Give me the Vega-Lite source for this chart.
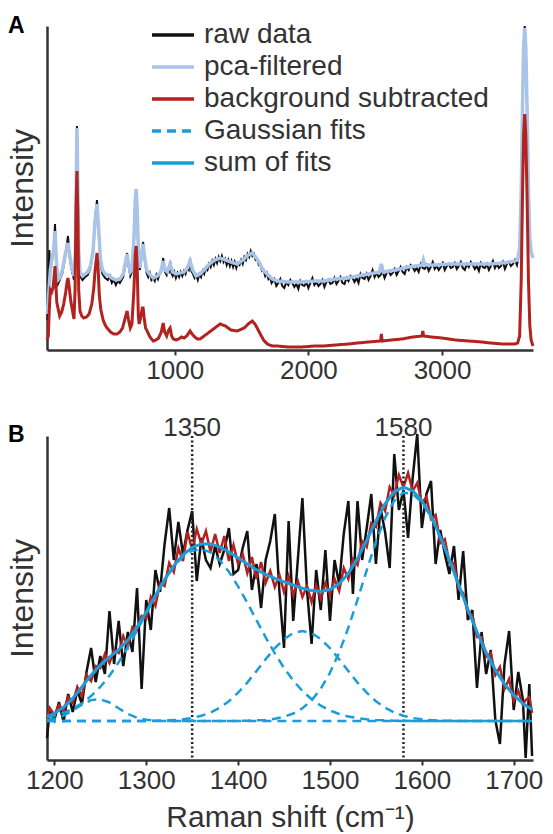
{
"$schema": "https://vega.github.io/schema/vega-lite/v6.json",
"padding": {"left": 6, "top": 15, "right": 0, "bottom": 0},
"background": "white",
"config": {
 "view": {"stroke": null},
 "font": "Liberation Sans",
 "axis": {"grid": false, "domainColor": "#333333", "domainWidth": 2.5, "tickColor": "#333333", "tickWidth": 2, "tickSize": 5, "labelFontSize": 26, "labelColor": "#333333", "labelFont": "Liberation Sans", "labelPadding": 2, "titleFont": "Liberation Sans", "titleFontWeight": "normal", "titleColor": "#333333"},
 "axisY": {"labels": false, "ticks": false, "titleFontSize": 32, "titlePadding": 8},
 "title": {"font": "Liberation Sans", "fontWeight": "bold", "fontSize": 23, "color": "#000000", "anchor": "start", "frame": "bounds", "baseline": "alphabetic"}
},
"spacing": 86,
"bounds": "flush",
"datasets": {
 "a": [
{"s":"raw data","x":48,"v":30},{"s":"raw data","x":55,"v":60},{"s":"raw data","x":62,"v":100},{"s":"raw data","x":70,"v":78},{"s":"raw data","x":80,"v":88},{"s":"raw data","x":95,"v":98},{"s":"raw data","x":105,"v":126},{"s":"raw data","x":112,"v":95},{"s":"raw data","x":120,"v":72},{"s":"raw data","x":127,"v":66},{"s":"raw data","x":140,"v":70},{"s":"raw data","x":160,"v":77},{"s":"raw data","x":180,"v":92},{"s":"raw data","x":202,"v":114},{"s":"raw data","x":215,"v":92},{"s":"raw data","x":230,"v":80},{"s":"raw data","x":247,"v":70},{"s":"raw data","x":258,"v":98},{"s":"raw data","x":264,"v":172},{"s":"raw data","x":269,"v":224},{"s":"raw data","x":275,"v":168},{"s":"raw data","x":282,"v":98},{"s":"raw data","x":292,"v":74},{"s":"raw data","x":310,"v":70},{"s":"raw data","x":330,"v":73},{"s":"raw data","x":350,"v":75},{"s":"raw data","x":370,"v":82},{"s":"raw data","x":390,"v":98},{"s":"raw data","x":405,"v":132},{"s":"raw data","x":419,"v":150},{"s":"raw data","x":432,"v":118},{"s":"raw data","x":445,"v":86},{"s":"raw data","x":460,"v":76},{"s":"raw data","x":480,"v":72},{"s":"raw data","x":500,"v":70},{"s":"raw data","x":515,"v":74},{"s":"raw data","x":530,"v":67},{"s":"raw data","x":545,"v":70},{"s":"raw data","x":560,"v":65},{"s":"raw data","x":575,"v":69},{"s":"raw data","x":590,"v":67},{"s":"raw data","x":615,"v":73},{"s":"raw data","x":635,"v":88},{"s":"raw data","x":644,"v":97},{"s":"raw data","x":655,"v":84},{"s":"raw data","x":668,"v":74},{"s":"raw data","x":680,"v":78},{"s":"raw data","x":695,"v":108},{"s":"raw data","x":705,"v":148},{"s":"raw data","x":712,"v":160},{"s":"raw data","x":720,"v":138},{"s":"raw data","x":730,"v":87},{"s":"raw data","x":740,"v":80},{"s":"raw data","x":752,"v":97},{"s":"raw data","x":764,"v":108},{"s":"raw data","x":776,"v":90},
{"s":"raw data","x":790,"v":77},{"s":"raw data","x":802,"v":73},{"s":"raw data","x":814,"v":77},{"s":"raw data","x":826,"v":70},{"s":"raw data","x":839,"v":72},{"s":"raw data","x":851,"v":69},{"s":"raw data","x":863,"v":75},{"s":"raw data","x":875,"v":71},{"s":"raw data","x":887,"v":76},{"s":"raw data","x":899,"v":79},{"s":"raw data","x":908,"v":86},{"s":"raw data","x":914,"v":92},{"s":"raw data","x":920,"v":85},{"s":"raw data","x":928,"v":78},{"s":"raw data","x":940,"v":75},{"s":"raw data","x":950,"v":81},{"s":"raw data","x":958,"v":79},{"s":"raw data","x":966,"v":89},{"s":"raw data","x":975,"v":77},{"s":"raw data","x":985,"v":74},{"s":"raw data","x":997,"v":78},{"s":"raw data","x":1009,"v":72},{"s":"raw data","x":1021,"v":77},{"s":"raw data","x":1033,"v":73},{"s":"raw data","x":1045,"v":78},{"s":"raw data","x":1057,"v":74},{"s":"raw data","x":1069,"v":79},{"s":"raw data","x":1081,"v":76},{"s":"raw data","x":1093,"v":82},{"s":"raw data","x":1105,"v":80},{"s":"raw data","x":1115,"v":92},{"s":"raw data","x":1125,"v":79},{"s":"raw data","x":1137,"v":76},{"s":"raw data","x":1149,"v":72},{"s":"raw data","x":1161,"v":75},{"s":"raw data","x":1173,"v":70},{"s":"raw data","x":1185,"v":76},{"s":"raw data","x":1197,"v":73},{"s":"raw data","x":1209,"v":79},{"s":"raw data","x":1221,"v":76},{"s":"raw data","x":1233,"v":82},{"s":"raw data","x":1245,"v":80},{"s":"raw data","x":1257,"v":86},{"s":"raw data","x":1269,"v":83},{"s":"raw data","x":1281,"v":89},{"s":"raw data","x":1293,"v":85},{"s":"raw data","x":1305,"v":91},{"s":"raw data","x":1317,"v":87},{"s":"raw data","x":1329,"v":93},{"s":"raw data","x":1341,"v":89},{"s":"raw data","x":1353,"v":94},{"s":"raw data","x":1365,"v":88},{"s":"raw data","x":1377,"v":91},{"s":"raw data","x":1389,"v":85},{"s":"raw data","x":1401,"v":90},{"s":"raw data","x":1413,"v":84},{"s":"raw data","x":1425,"v":89},{"s":"raw data","x":1437,"v":83},{"s":"raw data","x":1449,"v":88},{"s":"raw data","x":1461,"v":82},{"s":"raw data","x":1473,"v":87},{"s":"raw data","x":1485,"v":85},{"s":"raw data","x":1497,"v":90},{"s":"raw data","x":1509,"v":86},{"s":"raw data","x":1521,"v":93},{"s":"raw data","x":1533,"v":90},{"s":"raw data","x":1545,"v":96},{"s":"raw data","x":1557,"v":93},{"s":"raw data","x":1569,"v":99},{"s":"raw data","x":1581,"v":94},{"s":"raw data","x":1593,"v":96},{"s":"raw data","x":1605,"v":90},{"s":"raw data","x":1617,"v":91},{"s":"raw data","x":1629,"v":85},{"s":"raw data","x":1641,"v":86},{"s":"raw data","x":1653,"v":79},{"s":"raw data","x":1665,"v":80},{"s":"raw data","x":1677,"v":74},{"s":"raw data","x":1689,"v":77},{"s":"raw data","x":1701,"v":71},{"s":"raw data","x":1713,"v":73},{"s":"raw data","x":1725,"v":67},
{"s":"raw data","x":1730,"v":68},{"s":"raw data","x":1745,"v":71},{"s":"raw data","x":1760,"v":64},{"s":"raw data","x":1775,"v":67},{"s":"raw data","x":1790,"v":71},{"s":"raw data","x":1805,"v":64},{"s":"raw data","x":1820,"v":62},{"s":"raw data","x":1835,"v":68},{"s":"raw data","x":1850,"v":65},{"s":"raw data","x":1865,"v":70},{"s":"raw data","x":1880,"v":67},{"s":"raw data","x":1895,"v":63},{"s":"raw data","x":1910,"v":66},{"s":"raw data","x":1925,"v":61},{"s":"raw data","x":1940,"v":69},{"s":"raw data","x":1955,"v":65},{"s":"raw data","x":1970,"v":64},{"s":"raw data","x":1985,"v":68},{"s":"raw data","x":2000,"v":62},{"s":"raw data","x":2015,"v":67},{"s":"raw data","x":2030,"v":72},{"s":"raw data","x":2045,"v":65},{"s":"raw data","x":2060,"v":68},{"s":"raw data","x":2075,"v":64},{"s":"raw data","x":2090,"v":66},{"s":"raw data","x":2105,"v":70},{"s":"raw data","x":2120,"v":63},{"s":"raw data","x":2135,"v":68},{"s":"raw data","x":2150,"v":70},{"s":"raw data","x":2165,"v":66},{"s":"raw data","x":2180,"v":67},{"s":"raw data","x":2195,"v":72},{"s":"raw data","x":2210,"v":66},{"s":"raw data","x":2225,"v":69},{"s":"raw data","x":2240,"v":73},{"s":"raw data","x":2255,"v":67},{"s":"raw data","x":2270,"v":66},{"s":"raw data","x":2285,"v":72},{"s":"raw data","x":2300,"v":69},{"s":"raw data","x":2315,"v":74},{"s":"raw data","x":2330,"v":72},{"s":"raw data","x":2345,"v":68},{"s":"raw data","x":2360,"v":72},{"s":"raw data","x":2375,"v":67},{"s":"raw data","x":2390,"v":76},{"s":"raw data","x":2405,"v":72},{"s":"raw data","x":2420,"v":71},{"s":"raw data","x":2435,"v":76},{"s":"raw data","x":2450,"v":70},{"s":"raw data","x":2465,"v":74},{"s":"raw data","x":2480,"v":80},{"s":"raw data","x":2495,"v":73},{"s":"raw data","x":2510,"v":77},{"s":"raw data","x":2525,"v":73},{"s":"raw data","x":2540,"v":75},{"s":"raw data","x":2555,"v":79},{"s":"raw data","x":2570,"v":72},{"s":"raw data","x":2585,"v":77},{"s":"raw data","x":2600,"v":79},{"s":"raw data","x":2615,"v":75},{"s":"raw data","x":2630,"v":77},{"s":"raw data","x":2645,"v":81},{"s":"raw data","x":2660,"v":75},{"s":"raw data","x":2675,"v":79},{"s":"raw data","x":2690,"v":83},{"s":"raw data","x":2705,"v":78},{"s":"raw data","x":2720,"v":76},{"s":"raw data","x":2735,"v":83},{"s":"raw data","x":2750,"v":80},{"s":"raw data","x":2765,"v":85},{"s":"raw data","x":2780,"v":83},{"s":"raw data","x":2795,"v":79},{"s":"raw data","x":2810,"v":82},{"s":"raw data","x":2825,"v":78},{"s":"raw data","x":2840,"v":86},{"s":"raw data","x":2855,"v":82},{"s":"raw data","x":2870,"v":81},{"s":"raw data","x":2885,"v":85},{"s":"raw data","x":2900,"v":79},{"s":"raw data","x":2915,"v":83},{"s":"raw data","x":2930,"v":88},{"s":"raw data","x":2945,"v":81},{"s":"raw data","x":2960,"v":84},{"s":"raw data","x":2975,"v":80},{"s":"raw data","x":2990,"v":83},{"s":"raw data","x":3005,"v":87},{"s":"raw data","x":3020,"v":80},{"s":"raw data","x":3035,"v":84},{"s":"raw data","x":3050,"v":86},{"s":"raw data","x":3065,"v":82},{"s":"raw data","x":3080,"v":83},{"s":"raw data","x":3095,"v":87},{"s":"raw data","x":3110,"v":81},{"s":"raw data","x":3125,"v":84},{"s":"raw data","x":3140,"v":88},{"s":"raw data","x":3155,"v":82},{"s":"raw data","x":3170,"v":80},{"s":"raw data","x":3185,"v":86},{"s":"raw data","x":3200,"v":83},{"s":"raw data","x":3215,"v":88},{"s":"raw data","x":3230,"v":85},{"s":"raw data","x":3245,"v":81},{"s":"raw data","x":3260,"v":84},{"s":"raw data","x":3275,"v":79},{"s":"raw data","x":3290,"v":87},{"s":"raw data","x":3305,"v":83},{"s":"raw data","x":3320,"v":82},{"s":"raw data","x":3335,"v":86},{"s":"raw data","x":3350,"v":80},{"s":"raw data","x":3365,"v":84},{"s":"raw data","x":3380,"v":89},{"s":"raw data","x":3395,"v":82},{"s":"raw data","x":3410,"v":86},{"s":"raw data","x":3425,"v":82},{"s":"raw data","x":3440,"v":84},{"s":"raw data","x":3455,"v":88},{"s":"raw data","x":3470,"v":81},{"s":"raw data","x":3485,"v":86},{"s":"raw data","x":3500,"v":88},{"s":"raw data","x":3515,"v":84},{"s":"raw data","x":3530,"v":86},{"s":"raw data","x":3545,"v":90},{"s":"raw data","x":3560,"v":85},{"s":"raw data","x":3570,"v":92},{"s":"raw data","x":3580,"v":100},{"s":"raw data","x":3592,"v":160},{"s":"raw data","x":3602,"v":250},{"s":"raw data","x":3610,"v":305},{"s":"raw data","x":3618,"v":324},{"s":"raw data","x":3626,"v":305},{"s":"raw data","x":3636,"v":240},{"s":"raw data","x":3646,"v":160},{"s":"raw data","x":3656,"v":112},{"s":"raw data","x":3666,"v":97},{"s":"raw data","x":3680,"v":94},
{"s":"pca-filtered","x":48,"v":36},{"s":"pca-filtered","x":60,"v":60},{"s":"pca-filtered","x":70,"v":80},{"s":"pca-filtered","x":80,"v":90},{"s":"pca-filtered","x":95,"v":100},{"s":"pca-filtered","x":105,"v":119},{"s":"pca-filtered","x":115,"v":90},{"s":"pca-filtered","x":127,"v":70},{"s":"pca-filtered","x":140,"v":72},{"s":"pca-filtered","x":160,"v":80},{"s":"pca-filtered","x":180,"v":95},{"s":"pca-filtered","x":202,"v":107},{"s":"pca-filtered","x":215,"v":95},{"s":"pca-filtered","x":230,"v":82},{"s":"pca-filtered","x":247,"v":74},{"s":"pca-filtered","x":258,"v":100},{"s":"pca-filtered","x":264,"v":170},{"s":"pca-filtered","x":269,"v":222},{"s":"pca-filtered","x":275,"v":170},{"s":"pca-filtered","x":282,"v":100},{"s":"pca-filtered","x":292,"v":78},{"s":"pca-filtered","x":310,"v":74},{"s":"pca-filtered","x":330,"v":76},{"s":"pca-filtered","x":350,"v":78},{"s":"pca-filtered","x":370,"v":84},{"s":"pca-filtered","x":390,"v":100},{"s":"pca-filtered","x":405,"v":130},{"s":"pca-filtered","x":419,"v":146},{"s":"pca-filtered","x":432,"v":120},{"s":"pca-filtered","x":445,"v":90},{"s":"pca-filtered","x":460,"v":80},{"s":"pca-filtered","x":480,"v":76},{"s":"pca-filtered","x":500,"v":75},{"s":"pca-filtered","x":530,"v":72},{"s":"pca-filtered","x":560,"v":70},{"s":"pca-filtered","x":590,"v":71},{"s":"pca-filtered","x":615,"v":76},{"s":"pca-filtered","x":635,"v":90},{"s":"pca-filtered","x":644,"v":96},{"s":"pca-filtered","x":655,"v":86},{"s":"pca-filtered","x":668,"v":78},{"s":"pca-filtered","x":680,"v":80},{"s":"pca-filtered","x":695,"v":110},{"s":"pca-filtered","x":705,"v":150},{"s":"pca-filtered","x":712,"v":161},{"s":"pca-filtered","x":720,"v":140},{"s":"pca-filtered","x":730,"v":90},{"s":"pca-filtered","x":740,"v":82},{"s":"pca-filtered","x":752,"v":95},{"s":"pca-filtered","x":764,"v":106},{"s":"pca-filtered","x":776,"v":92},{"s":"pca-filtered","x":790,"v":80},{"s":"pca-filtered","x":810,"v":76},{"s":"pca-filtered","x":839,"v":72},{"s":"pca-filtered","x":870,"v":74},{"s":"pca-filtered","x":895,"v":78},{"s":"pca-filtered","x":914,"v":89},{"s":"pca-filtered","x":928,"v":80},{"s":"pca-filtered","x":945,"v":78},{"s":"pca-filtered","x":966,"v":86},{"s":"pca-filtered","x":985,"v":78},{"s":"pca-filtered","x":1010,"v":76},{"s":"pca-filtered","x":1040,"v":77},{"s":"pca-filtered","x":1070,"v":78},{"s":"pca-filtered","x":1095,"v":82},{"s":"pca-filtered","x":1115,"v":89},{"s":"pca-filtered","x":1135,"v":80},{"s":"pca-filtered","x":1160,"v":74},{"s":"pca-filtered","x":1190,"v":76},{"s":"pca-filtered","x":1220,"v":80},{"s":"pca-filtered","x":1260,"v":86},{"s":"pca-filtered","x":1300,"v":90},{"s":"pca-filtered","x":1340,"v":92},{"s":"pca-filtered","x":1380,"v":90},{"s":"pca-filtered","x":1420,"v":88},{"s":"pca-filtered","x":1467,"v":86},{"s":"pca-filtered","x":1510,"v":90},{"s":"pca-filtered","x":1550,"v":95},{"s":"pca-filtered","x":1580,"v":97},{"s":"pca-filtered","x":1600,"v":94},{"s":"pca-filtered","x":1630,"v":88},{"s":"pca-filtered","x":1660,"v":80},{"s":"pca-filtered","x":1692,"v":76},{"s":"pca-filtered","x":1730,"v":71},{"s":"pca-filtered","x":1767,"v":69},{"s":"pca-filtered","x":1850,"v":68},{"s":"pca-filtered","x":1950,"v":68},{"s":"pca-filtered","x":2050,"v":69},{"s":"pca-filtered","x":2112,"v":69},{"s":"pca-filtered","x":2200,"v":71},{"s":"pca-filtered","x":2300,"v":72},{"s":"pca-filtered","x":2366,"v":74},{"s":"pca-filtered","x":2450,"v":76},{"s":"pca-filtered","x":2530,"v":78},{"s":"pca-filtered","x":2546,"v":86},{"s":"pca-filtered","x":2560,"v":78},{"s":"pca-filtered","x":2650,"v":80},{"s":"pca-filtered","x":2750,"v":83},{"s":"pca-filtered","x":2850,"v":85},{"s":"pca-filtered","x":2860,"v":90},{"s":"pca-filtered","x":2870,"v":85},{"s":"pca-filtered","x":2950,"v":85},{"s":"pca-filtered","x":3050,"v":86},{"s":"pca-filtered","x":3150,"v":86},{"s":"pca-filtered","x":3250,"v":86},{"s":"pca-filtered","x":3360,"v":86},{"s":"pca-filtered","x":3450,"v":87},{"s":"pca-filtered","x":3545,"v":89},{"s":"pca-filtered","x":3565,"v":90},{"s":"pca-filtered","x":3580,"v":102},{"s":"pca-filtered","x":3592,"v":158},{"s":"pca-filtered","x":3602,"v":248},{"s":"pca-filtered","x":3610,"v":303},{"s":"pca-filtered","x":3618,"v":322},{"s":"pca-filtered","x":3626,"v":303},{"s":"pca-filtered","x":3636,"v":238},{"s":"pca-filtered","x":3646,"v":158},{"s":"pca-filtered","x":3656,"v":113},{"s":"pca-filtered","x":3666,"v":98},{"s":"pca-filtered","x":3680,"v":92},
{"s":"background subtracted","x":45,"v":10},{"s":"background subtracted","x":55,"v":14},{"s":"background subtracted","x":62,"v":40},{"s":"background subtracted","x":70,"v":60},{"s":"background subtracted","x":80,"v":58},{"s":"background subtracted","x":90,"v":62},{"s":"background subtracted","x":100,"v":76},{"s":"background subtracted","x":105,"v":84},{"s":"background subtracted","x":110,"v":70},{"s":"background subtracted","x":118,"v":48},{"s":"background subtracted","x":127,"v":42},{"s":"background subtracted","x":140,"v":34},{"s":"background subtracted","x":155,"v":38},{"s":"background subtracted","x":170,"v":46},{"s":"background subtracted","x":185,"v":58},{"s":"background subtracted","x":195,"v":68},{"s":"background subtracted","x":202,"v":72},{"s":"background subtracted","x":210,"v":64},{"s":"background subtracted","x":222,"v":50},{"s":"background subtracted","x":232,"v":42},{"s":"background subtracted","x":240,"v":36},{"s":"background subtracted","x":247,"v":31},{"s":"background subtracted","x":255,"v":60},{"s":"background subtracted","x":262,"v":140},{"s":"background subtracted","x":269,"v":179},{"s":"background subtracted","x":276,"v":130},{"s":"background subtracted","x":282,"v":60},{"s":"background subtracted","x":292,"v":39},{"s":"background subtracted","x":305,"v":34},{"s":"background subtracted","x":320,"v":32},{"s":"background subtracted","x":340,"v":33},{"s":"background subtracted","x":360,"v":36},{"s":"background subtracted","x":380,"v":46},{"s":"background subtracted","x":395,"v":62},{"s":"background subtracted","x":405,"v":80},{"s":"background subtracted","x":419,"v":97},{"s":"background subtracted","x":428,"v":80},{"s":"background subtracted","x":436,"v":55},{"s":"background subtracted","x":448,"v":40},{"s":"background subtracted","x":465,"v":30},{"s":"background subtracted","x":480,"v":25},{"s":"background subtracted","x":494,"v":22},{"s":"background subtracted","x":520,"v":18},{"s":"background subtracted","x":545,"v":16},{"s":"background subtracted","x":569,"v":16},{"s":"background subtracted","x":590,"v":18},{"s":"background subtracted","x":610,"v":22},{"s":"background subtracted","x":630,"v":32},{"s":"background subtracted","x":644,"v":39},{"s":"background subtracted","x":655,"v":30},{"s":"background subtracted","x":668,"v":22},{"s":"background subtracted","x":680,"v":26},{"s":"background subtracted","x":695,"v":60},{"s":"background subtracted","x":705,"v":95},{"s":"background subtracted","x":712,"v":104},{"s":"background subtracted","x":720,"v":80},{"s":"background subtracted","x":728,"v":35},{"s":"background subtracted","x":734,"v":26},{"s":"background subtracted","x":745,"v":32},{"s":"background subtracted","x":758,"v":42},{"s":"background subtracted","x":764,"v":42},{"s":"background subtracted","x":772,"v":32},{"s":"background subtracted","x":782,"v":22},{"s":"background subtracted","x":794,"v":19},{"s":"background subtracted","x":815,"v":13},{"s":"background subtracted","x":839,"v":9},{"s":"background subtracted","x":860,"v":10},{"s":"background subtracted","x":880,"v":12},{"s":"background subtracted","x":900,"v":18},{"s":"background subtracted","x":914,"v":27},{"s":"background subtracted","x":925,"v":18},{"s":"background subtracted","x":940,"v":14},{"s":"background subtracted","x":955,"v":20},{"s":"background subtracted","x":966,"v":22},{"s":"background subtracted","x":977,"v":14},{"s":"background subtracted","x":990,"v":11},{"s":"background subtracted","x":1010,"v":10},{"s":"background subtracted","x":1030,"v":11},{"s":"background subtracted","x":1050,"v":13},{"s":"background subtracted","x":1070,"v":12},{"s":"background subtracted","x":1090,"v":14},{"s":"background subtracted","x":1105,"v":17},{"s":"background subtracted","x":1115,"v":19},{"s":"background subtracted","x":1130,"v":16},{"s":"background subtracted","x":1150,"v":13},{"s":"background subtracted","x":1170,"v":11},{"s":"background subtracted","x":1190,"v":11},{"s":"background subtracted","x":1220,"v":14},{"s":"background subtracted","x":1260,"v":18},{"s":"background subtracted","x":1300,"v":22},{"s":"background subtracted","x":1340,"v":26},{"s":"background subtracted","x":1380,"v":24},{"s":"background subtracted","x":1420,"v":20},{"s":"background subtracted","x":1467,"v":19},{"s":"background subtracted","x":1520,"v":22},{"s":"background subtracted","x":1550,"v":26},{"s":"background subtracted","x":1580,"v":29},{"s":"background subtracted","x":1600,"v":26},{"s":"background subtracted","x":1617,"v":22},{"s":"background subtracted","x":1640,"v":16},{"s":"background subtracted","x":1665,"v":10},{"s":"background subtracted","x":1692,"v":6},{"s":"background subtracted","x":1730,"v":4},{"s":"background subtracted","x":1767,"v":4},{"s":"background subtracted","x":1850,"v":3},{"s":"background subtracted","x":1950,"v":3},{"s":"background subtracted","x":2050,"v":4},{"s":"background subtracted","x":2112,"v":4},{"s":"background subtracted","x":2200,"v":5},{"s":"background subtracted","x":2300,"v":6},{"s":"background subtracted","x":2366,"v":7},{"s":"background subtracted","x":2450,"v":8},{"s":"background subtracted","x":2540,"v":9},{"s":"background subtracted","x":2546,"v":16},{"s":"background subtracted","x":2552,"v":9},{"s":"background subtracted","x":2620,"v":10},{"s":"background subtracted","x":2700,"v":11},{"s":"background subtracted","x":2780,"v":13},{"s":"background subtracted","x":2850,"v":14},{"s":"background subtracted","x":2856,"v":19},{"s":"background subtracted","x":2862,"v":14},{"s":"background subtracted","x":2920,"v":13},{"s":"background subtracted","x":3000,"v":12},{"s":"background subtracted","x":3100,"v":10},{"s":"background subtracted","x":3200,"v":9},{"s":"background subtracted","x":3300,"v":8},{"s":"background subtracted","x":3360,"v":7},{"s":"background subtracted","x":3450,"v":6},{"s":"background subtracted","x":3545,"v":6},{"s":"background subtracted","x":3565,"v":7},{"s":"background subtracted","x":3580,"v":14},{"s":"background subtracted","x":3592,"v":70},{"s":"background subtracted","x":3602,"v":160},{"s":"background subtracted","x":3610,"v":215},{"s":"background subtracted","x":3618,"v":236},{"s":"background subtracted","x":3626,"v":215},{"s":"background subtracted","x":3636,"v":150},{"s":"background subtracted","x":3646,"v":70},{"s":"background subtracted","x":3656,"v":25},{"s":"background subtracted","x":3666,"v":10},{"s":"background subtracted","x":3680,"v":4}
 ],
 "b": [
{"x":1192,"raw":22,"red":42},{"x":1195,"raw":50,"red":52},{"x":1200,"raw":40,"red":45},{"x":1205,"raw":58,"red":55},{"x":1210,"raw":38,"red":49},{"x":1215,"raw":66,"red":63},{"x":1220,"raw":48,"red":57},{"x":1225,"raw":70,"red":73},{"x":1230,"raw":56,"red":64},{"x":1235,"raw":88,"red":85},{"x":1240,"raw":112,"red":79},{"x":1245,"raw":78,"red":94},{"x":1250,"raw":104,"red":92},{"x":1255,"raw":86,"red":106},{"x":1260,"raw":149,"red":97},{"x":1265,"raw":96,"red":110},{"x":1270,"raw":139,"red":107},{"x":1275,"raw":94,"red":124},{"x":1280,"raw":128,"red":113},{"x":1285,"raw":108,"red":133},{"x":1290,"raw":172,"red":130},{"x":1295,"raw":71,"red":144},{"x":1300,"raw":160,"red":141},{"x":1305,"raw":130,"red":163},{"x":1310,"raw":190,"red":154},{"x":1315,"raw":168,"red":177},{"x":1320,"raw":216,"red":174},{"x":1325,"raw":252,"red":197},{"x":1330,"raw":200,"red":188},{"x":1335,"raw":238,"red":212},{"x":1340,"raw":206,"red":199},{"x":1345,"raw":230,"red":228},{"x":1350,"raw":249,"red":210},{"x":1355,"raw":179,"red":231},{"x":1360,"raw":222,"red":216},{"x":1365,"raw":200,"red":229},{"x":1370,"raw":192,"red":208},{"x":1375,"raw":214,"red":226},{"x":1380,"raw":196,"red":207},{"x":1385,"raw":210,"red":224},{"x":1390,"raw":232,"red":199},{"x":1395,"raw":186,"red":215},{"x":1400,"raw":190,"red":196},{"x":1405,"raw":212,"red":206},{"x":1410,"raw":229,"red":187},{"x":1415,"raw":170,"red":203},{"x":1420,"raw":196,"red":181},{"x":1425,"raw":152,"red":198},{"x":1430,"raw":200,"red":177},{"x":1435,"raw":219,"red":189},{"x":1440,"raw":246,"red":173},{"x":1445,"raw":168,"red":185},{"x":1450,"raw":112,"red":168},{"x":1455,"raw":239,"red":184},{"x":1460,"raw":139,"red":165},{"x":1465,"raw":200,"red":179},{"x":1470,"raw":262,"red":163},{"x":1475,"raw":170,"red":174},{"x":1480,"raw":116,"red":158},{"x":1485,"raw":190,"red":175},{"x":1490,"raw":150,"red":161},{"x":1495,"raw":210,"red":177},{"x":1500,"raw":139,"red":165},{"x":1505,"raw":200,"red":181},{"x":1510,"raw":176,"red":169},{"x":1515,"raw":226,"red":192},{"x":1520,"raw":259,"red":181},{"x":1525,"raw":166,"red":201},{"x":1530,"raw":259,"red":195},{"x":1535,"raw":200,"red":219},{"x":1540,"raw":232,"red":213},{"x":1545,"raw":266,"red":237},{"x":1550,"raw":196,"red":233},{"x":1555,"raw":252,"red":257},{"x":1560,"raw":228,"red":249},{"x":1565,"raw":192,"red":273},{"x":1570,"raw":306,"red":265},{"x":1575,"raw":250,"red":285},{"x":1580,"raw":270,"red":273},{"x":1585,"raw":222,"red":287},{"x":1590,"raw":282,"red":269},{"x":1595,"raw":326,"red":277},{"x":1600,"raw":232,"red":257},{"x":1605,"raw":266,"red":263},{"x":1610,"raw":279,"red":241},{"x":1615,"raw":196,"red":245},{"x":1620,"raw":230,"red":217},{"x":1625,"raw":206,"red":221},{"x":1630,"raw":186,"red":197},{"x":1635,"raw":214,"red":197},{"x":1640,"raw":160,"red":171},{"x":1645,"raw":209,"red":167},{"x":1650,"raw":140,"red":147},{"x":1655,"raw":150,"red":145},{"x":1660,"raw":72,"red":123},{"x":1665,"raw":128,"red":123},{"x":1670,"raw":86,"red":103},{"x":1675,"raw":110,"red":107},{"x":1680,"raw":40,"red":85},{"x":1685,"raw":16,"red":93},{"x":1690,"raw":96,"red":71},{"x":1695,"raw":129,"red":81},{"x":1700,"raw":50,"red":59},{"x":1705,"raw":88,"red":69},{"x":1710,"raw":60,"red":55},{"x":1713,"raw":2,"red":60},{"x":1717,"raw":76,"red":63},{"x":1720,"raw":4,"red":47}
 ],
 "g": [
{"x":1192,"g1":40.0,"g2":42.8,"g3":39,"g4":39,"sum":43.7},{"x":1200,"g1":41.2,"g2":44.4,"g3":39,"g4":39,"sum":46.6},{"x":1210,"g1":44.4,"g2":47.2,"g3":39,"g4":39,"sum":52.6},{"x":1220,"g1":49.4,"g2":51.2,"g3":39,"g4":39,"sum":61.6},{"x":1230,"g1":55.3,"g2":56.7,"g3":39,"g4":39,"sum":73.0},{"x":1240,"g1":59.9,"g2":63.9,"g3":39,"g4":39,"sum":84.8},{"x":1250,"g1":60.8,"g2":73.0,"g3":39,"g4":39,"sum":94.8},{"x":1260,"g1":57.5,"g2":84.3,"g3":39,"g4":39,"sum":102.8},{"x":1270,"g1":51.7,"g2":97.7,"g3":39,"g4":39,"sum":110.4},{"x":1280,"g1":46.1,"g2":112.9,"g3":39,"g4":39,"sum":120.0},{"x":1290,"g1":42.3,"g2":129.5,"g3":39,"g4":39,"sum":132.8},{"x":1300,"g1":40.2,"g2":146.8,"g3":39.1,"g4":39,"sum":148.1},{"x":1310,"g1":39.4,"g2":163.9,"g3":39.2,"g4":39,"sum":164.5},{"x":1320,"g1":39.1,"g2":179.7,"g3":39.4,"g4":39,"sum":180.2},{"x":1330,"g1":39,"g2":193.3,"g3":39.9,"g4":39,"sum":194.2},{"x":1340,"g1":39,"g2":203.4,"g3":40.7,"g4":39,"sum":205.1},{"x":1350,"g1":39,"g2":209.5,"g3":42.0,"g4":39,"sum":212.5},{"x":1360,"g1":39,"g2":210.9,"g3":44.2,"g4":39,"sum":216.1},{"x":1370,"g1":39,"g2":207.6,"g3":47.5,"g4":39,"sum":216.1},{"x":1380,"g1":39,"g2":199.8,"g3":52.3,"g4":39,"sum":213.1},{"x":1390,"g1":39,"g2":188.2,"g3":58.8,"g4":39,"sum":208.0},{"x":1400,"g1":39,"g2":173.7,"g3":67.3,"g4":39.1,"sum":202.1},{"x":1410,"g1":39,"g2":157.2,"g3":77.4,"g4":39.3,"sum":195.9},{"x":1420,"g1":39,"g2":139.8,"g3":88.9,"g4":39.6,"sum":190.3},{"x":1430,"g1":39,"g2":122.7,"g3":100.7,"g4":40.1,"sum":185.5},{"x":1440,"g1":39,"g2":106.6,"g3":111.8,"g4":41.2,"sum":181.6},{"x":1450,"g1":39,"g2":92.1,"g3":120.9,"g4":43.2,"sum":178.2},{"x":1460,"g1":39,"g2":79.5,"g3":126.9,"g4":46.5,"sum":174.9},{"x":1470,"g1":39,"g2":69.1,"g3":129,"g4":51.7,"sum":171.8},{"x":1480,"g1":39,"g2":60.8,"g3":126.9,"g4":59.7,"sum":169.4},{"x":1490,"g1":39,"g2":54.3,"g3":120.9,"g4":71.3,"sum":168.5},{"x":1500,"g1":39,"g2":49.5,"g3":111.8,"g4":87.2,"sum":170.5},{"x":1510,"g1":39,"g2":46.0,"g3":100.7,"g4":107.5,"sum":176.2},{"x":1520,"g1":39,"g2":43.5,"g3":88.9,"g4":132.2,"sum":186.6},{"x":1530,"g1":39,"g2":41.8,"g3":77.4,"g4":160.3,"sum":201.5},{"x":1540,"g1":39,"g2":40.7,"g3":67.3,"g4":189.7,"sum":219.7},{"x":1550,"g1":39,"g2":40.0,"g3":58.8,"g4":218.0,"sum":238.8},{"x":1560,"g1":39,"g2":39.6,"g3":52.3,"g4":242.2,"sum":256.1},{"x":1570,"g1":39,"g2":39.3,"g3":47.5,"g4":259.4,"sum":268.2},{"x":1580,"g1":39,"g2":39.2,"g3":44.2,"g4":267.5,"sum":272.8},{"x":1590,"g1":39,"g2":39,"g3":42.0,"g4":266.2,"sum":269.2},{"x":1600,"g1":39,"g2":39,"g3":40.7,"g4":257.7,"sum":259.4},{"x":1610,"g1":39,"g2":39,"g3":39.9,"g4":242.9,"sum":243.8},{"x":1620,"g1":39,"g2":39,"g3":39.4,"g4":223.1,"sum":223.5},{"x":1630,"g1":39,"g2":39,"g3":39.2,"g4":200.0,"sum":200.2},{"x":1640,"g1":39,"g2":39,"g3":39.1,"g4":175.4,"sum":175.5},{"x":1650,"g1":39,"g2":39,"g3":39,"g4":150.9,"sum":150.9},{"x":1660,"g1":39,"g2":39,"g3":39,"g4":128.0,"sum":128.0},{"x":1670,"g1":39,"g2":39,"g3":39,"g4":107.5,"sum":107.5},{"x":1680,"g1":39,"g2":39,"g3":39,"g4":90.1,"sum":90.1},{"x":1690,"g1":39,"g2":39,"g3":39,"g4":75.9,"sum":75.9},{"x":1700,"g1":39,"g2":39,"g3":39,"g4":64.8,"sum":64.8},{"x":1710,"g1":39,"g2":39,"g3":39,"g4":56.5,"sum":56.5},{"x":1720,"g1":39,"g2":39,"g3":39,"g4":50.5,"sum":50.5}
 ],
 "peaks": [{"x":1350,"t":"1350"},{"x":1580,"t":"1580"}]
},
"vconcat": [
 {
  "title": {"text": "A", "offset": -17, "dx": 2, "fontSize": 23},
  "width": 486, "height": 324,
  "data": {"name": "a"},
  "encoding": {
   "x": {"field": "x", "type": "quantitative", "scale": {"domain": [45, 3680], "nice": false, "zero": false}, "axis": {"values": [1000, 2000, 3000], "title": null, "format": "d"}},
   "y": {"field": "v", "type": "quantitative", "scale": {"domain": [0, 324], "nice": false}, "title": "Intensity"},
   "color": {"field": "s", "type": "nominal",
     "scale": {"domain": ["raw data", "pca-filtered", "background subtracted", "Gaussian fits", "sum of fits"], "range": ["#111111", "#a9c4e8", "#b2221f", "#1b9ddb", "#1b9ddb"]},
     "legend": {"title": null, "orient": "none", "legendX": 112, "legendY": -5, "symbolType": "M-2,0H2", "symbolSize": 441, "symbolStrokeWidth": 3.5, "labelFontSize": 28, "labelFont": "Liberation Sans", "labelColor": "#333333", "labelOffset": 17, "rowPadding": 4, "padding": 0, "labelLimit": 400}},
   "strokeDash": {"field": "s", "type": "nominal",
     "scale": {"domain": ["raw data", "pca-filtered", "background subtracted", "Gaussian fits", "sum of fits"], "range": [[1, 0], [1, 0], [1, 0], [9, 6], [1, 0]]},
     "legend": {"title": null, "orient": "none", "legendX": 112, "legendY": -5, "symbolType": "M-2,0H2", "symbolSize": 441, "symbolStrokeWidth": 3.5, "labelFontSize": 28, "labelFont": "Liberation Sans", "labelColor": "#333333", "labelOffset": 17, "rowPadding": 4, "padding": 0, "labelLimit": 400}}
  },
  "layer": [
   {"transform": [{"filter": "datum.s == 'raw data'"}], "mark": {"type": "line", "strokeWidth": 2}},
   {"transform": [{"filter": "datum.s == 'pca-filtered'"}], "mark": {"type": "line", "strokeWidth": 3.5}},
   {"transform": [{"filter": "datum.s == 'background subtracted'"}], "mark": {"type": "line", "strokeWidth": 3}}
  ]
 },
 {
  "title": {"text": "B", "offset": -32, "dx": 2, "fontSize": 23},
  "width": 486, "height": 324,
  "encoding": {
   "x": {"field": "x", "type": "quantitative", "scale": {"domain": [1192, 1721], "nice": false, "zero": false}, "axis": {"values": [1200, 1300, 1400, 1500, 1600, 1700], "format": "d", "title": "Raman shift (cm⁻¹)", "titleFontSize": 30, "titlePadding": 9}}
  },
  "layer": [
   {"data": {"name": "b"}, "mark": {"type": "line", "color": "#111111", "strokeWidth": 2.5}, "encoding": {"y": {"field": "raw", "type": "quantitative", "scale": {"domain": [0, 324], "nice": false}, "title": "Intensity"}}},
   {"data": {"name": "b"}, "mark": {"type": "line", "color": "#b2221f", "strokeWidth": 2.5}, "encoding": {"y": {"field": "red", "type": "quantitative", "title": "Intensity"}}},
   {"data": {"name": "peaks"}, "mark": {"type": "rule", "color": "#222222", "strokeWidth": 2.5, "strokeDash": [2, 2.5]}, "encoding": {}},
   {"data": {"name": "g"}, "transform": [{"fold": ["g1", "g2", "g3", "g4"], "as": ["k", "v"]}], "mark": {"type": "line", "color": "#1b9ddb", "strokeWidth": 2.5, "strokeDash": [9, 6]}, "encoding": {"y": {"field": "v", "type": "quantitative", "title": "Intensity"}, "detail": {"field": "k"}}},
   {"data": {"name": "g"}, "mark": {"type": "line", "color": "#1b9ddb", "strokeWidth": 3}, "encoding": {"y": {"field": "sum", "type": "quantitative", "title": "Intensity"}}},
   {"data": {"name": "peaks"}, "mark": {"type": "text", "baseline": "alphabetic", "fontSize": 26, "color": "#333333"}, "encoding": {"y": {"datum": 324, "type": "quantitative", "title": "Intensity"}, "text": {"field": "t"}}}
  ]
 }
]
}
